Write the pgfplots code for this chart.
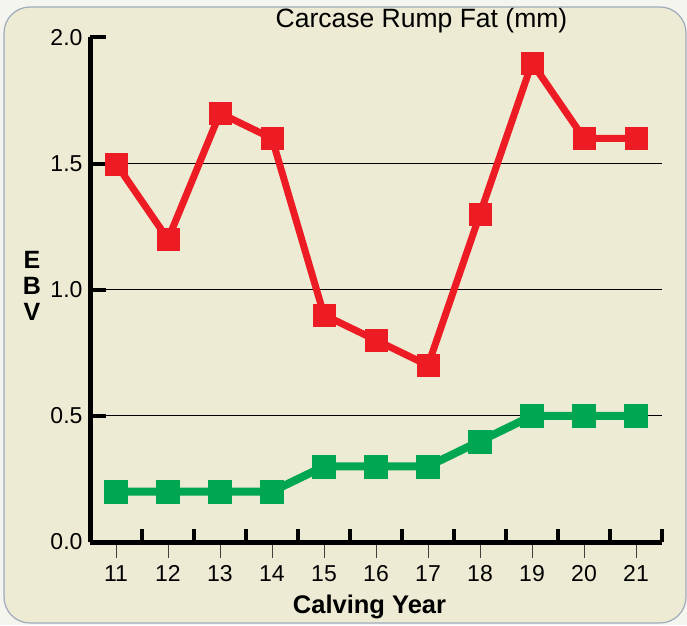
\documentclass[border=0pt]{standalone}
\usepackage{pgfplots}
\pgfplotsset{compat=1.18}
\usepackage{fontspec}
\setmainfont{Liberation Sans}
\definecolor{panelbg}{HTML}{EEEBD4}
\definecolor{outerbg}{HTML}{F5F5EF}
\definecolor{panelborder}{HTML}{9EABBA}
\definecolor{cred}{HTML}{ED1C24}
\definecolor{cgreen}{HTML}{00A651}
\begin{document}
\begin{tikzpicture}
\fill[outerbg] (0,0) rectangle (687pt,625pt);
\filldraw[fill=panelbg, draw=panelborder, line width=1.2pt, rounded corners=26pt] (4pt,2pt) rectangle (686pt,618pt);
\useasboundingbox (0,0) rectangle (687pt,625pt);
\begin{axis}[
  at={(90pt,83pt)}, anchor=south west,
  scale only axis, width=572pt, height=504.5pt,
  xmin=10.5, xmax=21.5, ymin=0, ymax=2,
  clip=false,
  axis lines=left,
  axis line style={-, line width=5pt, black},
  xtick={11,...,21},
  xtick align=outside,
  xtick style={line width=1pt, black!75},
  ytick={0,0.5,1,1.5},
  ytick align=inside,
  ytick style={line width=4pt, black},
  major tick length=16pt,
  ymajorgrids,
  grid style={line width=0.9pt, black},
  extra y ticks={2},
  extra y tick labels={2.0},
  extra y tick style={ymajorgrids=false},
  extra x ticks={11.5,12.5,13.5,14.5,15.5,16.5,17.5,18.5,19.5,20.5,21.5},
  extra x tick labels={},
  extra x tick style={tick align=inside, major tick length=13pt,
    xtick style={line width=3.5pt, black}, major tick style={line width=3.5pt, black},
    every major x tick/.append style={line width=3.5pt, black},
    every x tick/.append style={line width=3.5pt, black}},
  ticklabel style={font=\fontsize{23}{27}\selectfont},
  /pgf/number format/assume math mode=true,
  yticklabel style={xshift=-4pt, /pgf/number format/.cd, fixed, fixed zerofill, precision=1},
  xticklabel style={yshift=-4pt},
]
\addplot[cred, line width=7pt, mark=square*, mark size=11pt, mark options={line width=0.1pt}]
  coordinates {(11,1.5)(12,1.2)(13,1.7)(14,1.6)(15,0.9)(16,0.8)(17,0.7)(18,1.3)(19,1.9)(20,1.6)(21,1.6)};
\addplot[cgreen, line width=8pt, mark=square*, mark size=11.5pt, mark options={line width=0.1pt}]
  coordinates {(11,0.2)(12,0.2)(13,0.2)(14,0.2)(15,0.3)(16,0.3)(17,0.3)(18,0.4)(19,0.5)(20,0.5)(21,0.5)};
\draw[line width=5pt, black] (rel axis cs:0.99,0) -- ++(6pt,0);
\end{axis}
\node[anchor=base, font=\fontsize{26.5}{30}\selectfont] at (421.5pt,597pt) {Carcase Rump Fat (mm)};
\node[anchor=base, font=\bfseries\fontsize{25.5}{30}\selectfont] at (369.5pt,12pt) {Calving Year};
\node[align=center, inner sep=0pt, font=\bfseries\fontsize{25}{26}\selectfont] at (32pt,339.5pt) {E\\B\\V};
\end{tikzpicture}
\end{document}
